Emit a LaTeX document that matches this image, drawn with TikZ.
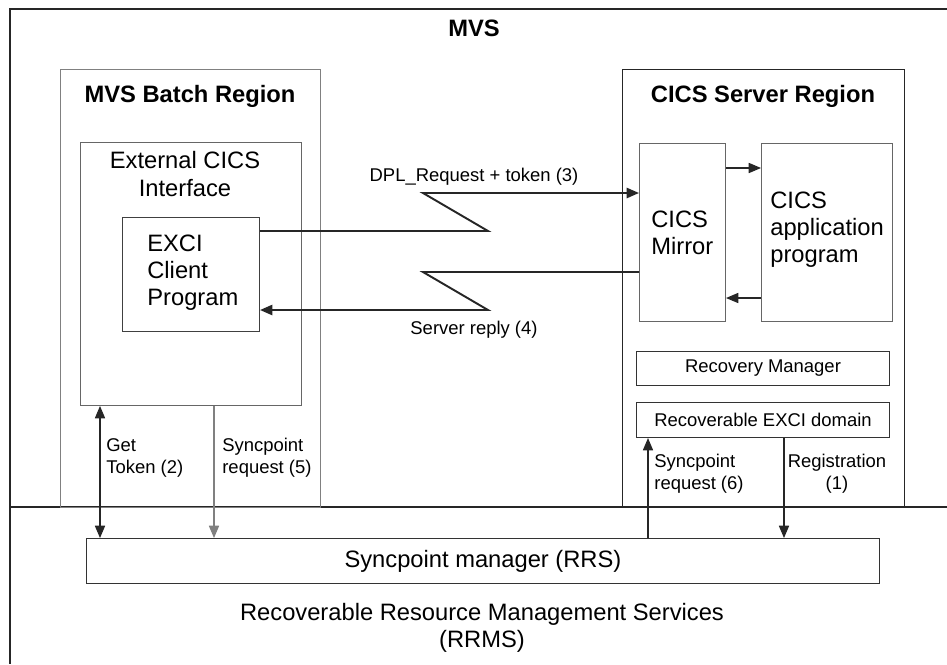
\documentclass[tikz,border=0pt]{standalone}
\usepackage{fontspec}
\setmainfont{Liberation Sans}
\usetikzlibrary{arrows.meta}

\newcommand\bigtxt{\fontsize{13.5}{15.4}\selectfont}
\newcommand\smalltxt{\fontsize{10.5}{12.5}\selectfont}

\tikzset{
  border/.style={draw=black!85, line width=1.2pt},
  region/.style={draw=black!85, line width=0.6pt, anchor=north west, inner sep=0pt},
  box/.style={draw=black!80, line width=0.6pt, anchor=north west, inner sep=0pt, font=\bigtxt},
  smallbox/.style={box, font=\smalltxt},
  titlelbl/.style={font=\bigtxt\bfseries, inner sep=0pt},
  biglbl/.style={font=\bigtxt, inner sep=0pt, align=left},
  smalllbl/.style={font=\smalltxt, inner sep=0pt, align=left},
  tip/.style={-{Triangle[length=7pt,width=5.8pt]}},
  link/.style={draw=black!85, line width=1.1pt, tip},
  thin/.style={draw=black!85, line width=0.6pt, tip}
}

\begin{document}
\begin{tikzpicture}[x=0.02cm, y=-0.02cm]
\useasboundingbox (0,0) rectangle (947,664);

% outer frame and divider
\draw[border] (947,9) -- (10,9) -- (10,664);
\node[titlelbl] (mvs) at (474,28) {MVS};
\draw[border] (10,507) -- (947,507);

% regions
\node[region, draw=black!50, minimum width=5.2cm, minimum height=8.76cm] (batch) at (60,69) {};
\node[titlelbl] (batchlbl) at (190,96) {MVS Batch Region};
\node[region, minimum width=5.64cm, minimum height=8.76cm] (server) at (622,69) {};
\node[titlelbl] (serverlbl) at (763,96) {CICS Server Region};

% batch side
\node[box, draw=black!60, minimum width=4.42cm, minimum height=5.26cm] (ext) at (80,142) {};
\node[biglbl, align=center] (extlbl) at (185,174) {External CICS\\Interface};
\node[box, draw=black!75, minimum width=2.74cm, minimum height=2.28cm] (client) at (122,217) {};
\node[biglbl, anchor=west] (clientlbl) at (147,273) {EXCI\\Client\\Program};

% server side
\node[box, draw=black!60, minimum width=1.72cm, minimum height=3.56cm] (mirror) at (639,143) {};
\node[biglbl, anchor=west] (mirrorlbl) at (651,233) {CICS\\Mirror};
\node[box, draw=black!60, minimum width=2.62cm, minimum height=3.56cm] (app) at (761,143) {};
\node[biglbl, anchor=west] (applbl) at (770,230) {CICS\\application\\program};
\node[smallbox, minimum width=5.06cm, minimum height=0.68cm] (recmgr) at (636,351) {Recovery Manager};
\node[smallbox, minimum width=5.06cm, minimum height=0.7cm] (excidom) at (636,402) {Recoverable EXCI domain};

% RRS
\node[box, minimum width=15.86cm, minimum height=0.9cm] (rrs) at (86,538) {Syncpoint manager (RRS)};
\node[biglbl, align=center] (rrms) at (482,628) {Recoverable Resource Management Services\\(RRMS)};

% mirror <-> application
\draw[thin] (mirror.east |- 0,168) -- (app.west |- 0,168);
\draw[thin] (app.west |- 0,298) -- (mirror.east |- 0,298);

% DPL request and reply
\draw[link] (client.east |- 0,231) -- (488,231) -- (423,193) -- (mirror.west |- 0,193);
\node[smalllbl] (dpllbl) at (474,177) {DPL\_Request + token (3)};
\draw[link] (mirror.west |- 0,272) -- (423,272) -- (488,310) -- (client.east |- 0,310);
\node[smalllbl] (replylbl) at (474,330) {Server reply (4)};

% vertical flows to RRS
\draw[thin, {Triangle[length=7pt,width=5.8pt]}-{Triangle[length=7pt,width=5.8pt]}] (ext.south -| 100,0) -- (rrs.north -| 100,0);
\node[smalllbl, anchor=west] (tokenlbl) at (106,458) {Get\\Token (2)};
\draw[thin, draw=black!50] (ext.south -| 214,0) -- (rrs.north -| 214,0);
\node[smalllbl, anchor=west] (sync5lbl) at (222,458) {Syncpoint\\request (5)};
\draw[thin] (rrs.north -| 648,0) -- (excidom.south -| 648,0);
\node[smalllbl, anchor=west] (sync6lbl) at (654,474) {Syncpoint\\request (6)};
\draw[thin] (excidom.south -| 784,0) -- (rrs.north -| 784,0);
\node[smalllbl, align=center] (reglbl) at (837,474) {Registration\\(1)};

\end{tikzpicture}
\end{document}
